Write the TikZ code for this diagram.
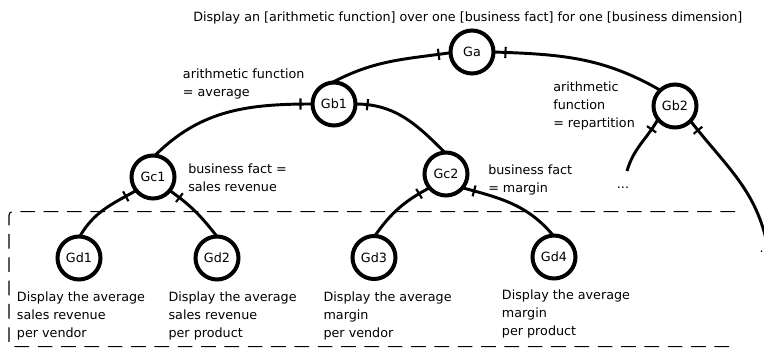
\documentclass[tikz,border=0pt]{standalone}
\usepackage{fontspec}
\setmainfont{DejaVu Sans}
\usetikzlibrary{decorations.markings}
\begin{document}
\begin{tikzpicture}[x=0.75pt,y=0.75pt,
  every node/.style={font=\fontsize{9.55}{13.5}\selectfont},
  goal/.style={circle,draw,line width=3pt,minimum size=32.25pt,inner sep=0pt,outer sep=0pt},
  label text/.style={anchor=north west,inner sep=0pt,align=left},
  link/.style={line width=2.2pt},
  ticked/.style={postaction={decorate,decoration={markings,
      mark=at position 9pt with {\draw[line width=1.6pt] (0,-4.2pt) -- (0,4.2pt);}}}},
  frame/.style={line width=0.8pt,dash pattern=on 11pt off 6.5pt,rounded corners=2.5pt}]
\useasboundingbox (0,0) rectangle (764,349);
\clip (0,0) rectangle (764,349);

% scope of the generated goals
\draw[frame] (735,137.3) -- (9,137.3) -- (9,2.3) -- (730,2.3);

% goal nodes
\node[goal] (Ga)  at (472,297) {Ga};
\node[goal] (Gb1) at (334,245) {Gb1};
\node[goal] (Gb2) at (675,243) {Gb2};
\node[goal] (Gc1) at (153,172) {Gc1};
\node[goal] (Gc2) at (446,175) {Gc2};
\node[goal] (Gd1) at (79,91)   {Gd1};
\node[goal] (Gd2) at (217,91)  {Gd2};
\node[goal] (Gd3) at (374,91.5) {Gd3};
\node[goal] (Gd4) at (554,92)  {Gd4};

% open ends of the branches under Gb2
\coordinate (Gb2left)  at (627,178);
\coordinate (Gb2right) at (768,100);

% refinement links
\draw[link,ticked] (Ga.182) to[out=188,in=28] (Gb1.95);
\draw[link,ticked] (Ga.0) to[out=-2,in=150] (Gb2.133);
\draw[link,ticked] (Gb1.180) to[out=180,in=45] (Gc1.85);
\draw[link,ticked] (Gb1.0) to[out=0,in=135] (Gc2.93);
\draw[link,ticked] (Gb2.218) to[out=240,in=74] (Gb2left);
\draw[link,ticked] (Gb2.-44) to[out=-52,in=100] (Gb2right);
\draw[link,ticked] (Gc1.219) to[out=209,in=60] (Gd1.88);
\draw[link,ticked] (Gc1.-39) to[out=-35,in=128] (Gd2.90);
\draw[link,ticked] (Gc2.220) to[out=208,in=55] (Gd3.88);
\draw[link,ticked] (Gc2.-40) to[out=-15,in=130] (Gd4.92);

% texts
\node[label text] (title) at (193,337)
  {Display an [arithmetic function] over one [business fact] for one [business dimension]};
\node[label text] (fa) at (182.7,280) {arithmetic function\\= average};
\node[label text] (fb) at (553,267.3) {arithmetic\\function\\= repartition};
\node[label text] (fc) at (188,185) {business fact =\\sales revenue};
\node[label text] (fd) at (488,184) {business fact\\= margin};
\node[anchor=base,inner sep=0pt] (more1) at (623,160) {...};
\node[anchor=base east,inner sep=0pt] (more2) at (764,96) {.};
\node[label text] (t1) at (16.7,57.3) {Display the average\\sales revenue\\per vendor};
\node[label text] (t2) at (168.3,57.3) {Display the average\\sales revenue\\per product};
\node[label text] (t3) at (323.3,57.3) {Display the average\\margin\\per vendor};
\node[label text] (t4) at (501.7,59) {Display the average\\margin\\per product};
\end{tikzpicture}
\end{document}
